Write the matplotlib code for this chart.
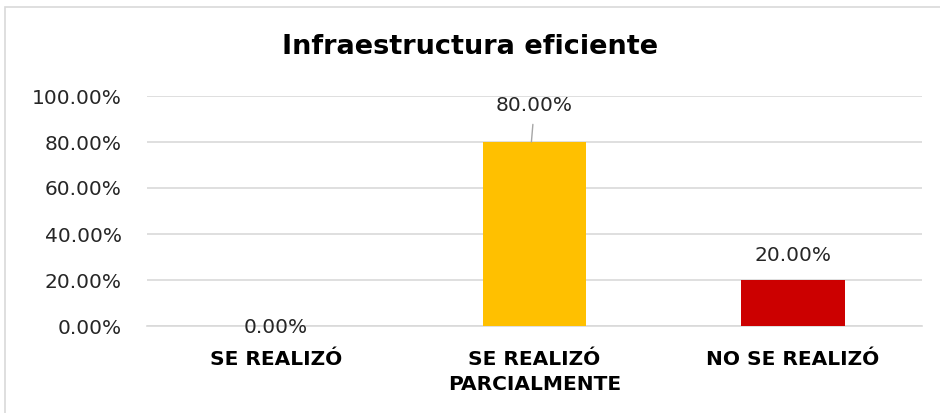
import matplotlib
matplotlib.use("Agg")
import matplotlib.pyplot as plt
from matplotlib.patches import Rectangle

categories = ["SE REALIZÓ", "SE REALIZÓ\nPARCIALMENTE", "NO SE REALIZÓ"]
values = [0.0, 80.0, 20.0]
colors = ["#FFC000", "#FFC000", "#CC0000"]
title = "Infraestructura eficiente"
yticks = [0, 20, 40, 60, 80, 100]

plt.rcParams['font.family'] = ['DejaVu Sans']

fig = plt.figure(figsize=(9.4, 4.13), dpi=100)
fig.patches.append(Rectangle((5/940, -0.2), 1.2, 0.2 + (413-7)/413, transform=fig.transFigure,
                             fill=False, edgecolor="#D9D9D9", linewidth=1.2))
ax = fig.add_axes([147/940, (413-326)/413, (922-147)/940, (326-96)/413])

x = list(range(len(categories)))
ax.bar(x, values, width=0.40, color=colors, zorder=3)
ax.set_xlim(-0.5, 2.5)
ax.set_ylim(0, 100)
ax.set_yticks(yticks)
ax.set_yticklabels([f"{v:.2f}%" for v in yticks], fontsize=14.5, color="#262626")
ax.set_xticks(x)
ax.set_xticklabels(categories, fontsize=14.5, fontweight="bold", color="#000000",
                   linespacing=1.45)
ax.tick_params(length=0, pad=18, axis="y")
ax.tick_params(length=0, pad=17, axis="x")
ax.grid(axis="y", color="#D9D9D9", linewidth=1.2, zorder=0)
for s in ["top", "right", "left"]:
    ax.spines[s].set_visible(False)
ax.spines["bottom"].set_color("#D9D9D9")
ax.spines["bottom"].set_linewidth(1.2)

for i, v in enumerate(values):
    if v == 80.0:
        ax.annotate(f"{v:.2f}%", xy=(i - 0.012, v), xytext=(i, v + 16), ha="center", va="center",
                    fontsize=14.5, color="#262626",
                    arrowprops=dict(arrowstyle="-", color="#A6A6A6", lw=1, shrinkA=5, shrinkB=0))
    else:
        ax.text(i, v + 6.5 if v > 0 else v - 0.5, f"{v:.2f}%", ha="center",
                va="bottom" if v > 0 else "center", fontsize=14.5, color="#262626")

fig.text(0.5, (413-47)/413, title, ha="center", va="center", fontsize=19.5, fontweight="bold")

fig.savefig("out.png", dpi=100)
